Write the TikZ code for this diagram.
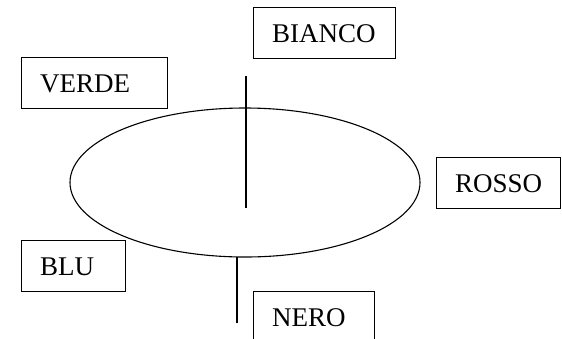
\documentclass[tikz,border=0pt]{standalone}
\usepackage{fontspec}
\setmainfont{Liberation Serif}
\begin{document}
\begin{tikzpicture}[x=1pt,y=-1pt,line width=1.1pt,
  label box/.style={draw, anchor=north west, minimum height=51pt, inner xsep=18.5pt,
    text height=18pt, text depth=0pt, align=left,
    font=\fontsize{27}{30}\selectfont}]
\useasboundingbox (0,0) rectangle (562,338);
\clip (0,0) rectangle (562,338);
\node[label box, minimum width=146pt, text width=109pt] (verde) at (21,57) {VERDE};
\node[label box, minimum width=142pt, text width=105pt] (bianco) at (253,7) {BIANCO};
\node[label box, minimum width=124pt, text width=87pt] (rosso) at (436,157) {ROSSO};
\node[label box, minimum width=104pt, text width=67pt] (blu) at (21,240) {BLU};
\node[label box, minimum width=121pt, text width=84pt] (nero) at (253,291) {NERO};
\draw (245,182.5) ellipse [x radius=175, y radius=74.5];
\coordinate (t1) at (246,76);
\coordinate (t2) at (246,208);
\coordinate (b1) at (237,257);
\coordinate (b2) at (237,323);
\draw (t1) -- (t2);
\draw (b1) -- (b2);
\end{tikzpicture}
\end{document}
